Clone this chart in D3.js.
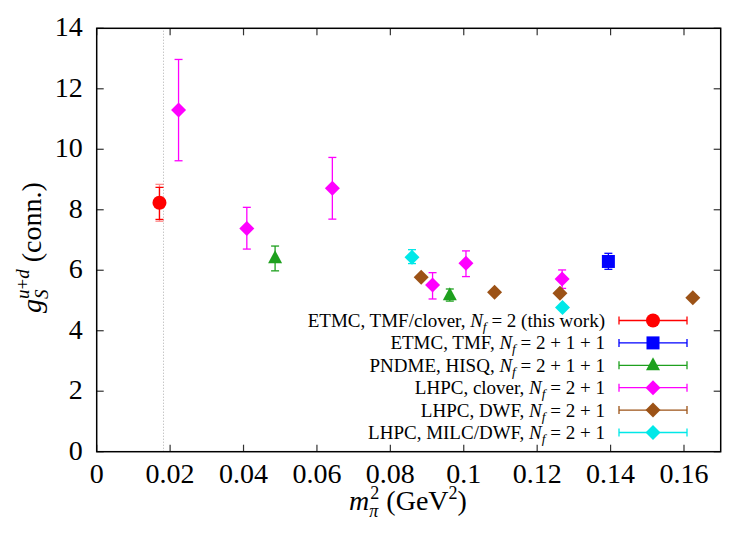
<!DOCTYPE html>
<html lang="en">
<head>
<meta charset="UTF-8">
<title>g_S u+d vs m_pi^2</title>
<script src="https://d3js.org/d3.v7.min.js"></script>
<style>
  body { margin: 0; background: #fff; overflow: hidden; }
  svg text { font-family: "Liberation Serif", "Times New Roman", Times, "DejaVu Serif", serif; fill: #000; }
  .tick-label { font-size: 28px; }
  .legend-text { font-size: 19px; }
</style>
</head>
<body>
<svg id="chart" width="742" height="539"></svg>
<script>
// x = m_pi^2 (GeV^2), y = g_S^{u+d}, lo/hi = error bar ends
const etmcX = [0.0171];
const etmcY = [8.23];
const etmcLo = [7.68];
const etmcHi = [8.74];
const etmcLoTot = [7.62];
const etmcHiTot = [8.84];

const tmfX = [0.1394];
const tmfY = [6.29];
const tmfLo = [6.03];
const tmfHi = [6.56];

const pndmeX = [0.0486, 0.0962];
const pndmeY = [6.40, 5.17];
const pndmeLo = [5.98, 4.98];
const pndmeHi = [6.80, 5.38];

const cloverX = [0.0223, 0.0409, 0.0642, 0.0915, 0.1006, 0.1268];
const cloverY = [11.30, 7.38, 8.71, 5.51, 6.23, 5.71];
const cloverLo = [9.62, 6.70, 7.69, 5.05, 5.79, 5.40];
const cloverHi = [12.97, 8.08, 9.73, 5.92, 6.64, 6.01];

const dwfX = [0.0884, 0.1084, 0.1262, 0.1624];
const dwfY = [5.77, 5.27, 5.24, 5.09];

const milcX = [0.0859, 0.1269];
const milcY = [6.43, 4.77];
const milcLo = [6.22, 4.70];
const milcHi = [6.68, 4.84];

const xTicks = [0, 0.02, 0.04, 0.06, 0.08, 0.1, 0.12, 0.14, 0.16];
const xTickLabels = ["0", "0.02", "0.04", "0.06", "0.08", "0.1", "0.12", "0.14", "0.16"];
const yTicks = [0, 2, 4, 6, 8, 10, 12, 14];
const physMpi2 = 0.0182;

const legendPre = ["ETMC, TMF/clover, ", "ETMC, TMF, ", "PNDME, HISQ, ", "LHPC, clover, ", "LHPC, DWF, ", "LHPC, MILC/DWF, "];
const legendPost = [" = 2 (this work)", " = 2 + 1 + 1", " = 2 + 1 + 1", " = 2 + 1", " = 2 + 1", " = 2 + 1"];

const zip = (xs, ys, lo, hi) => xs.map((x, i) => ({x, y: ys[i], lo: lo ? lo[i] : null, hi: hi ? hi[i] : null}));

const series = [
  {color: "#ff0000", shape: "circle",   pts: zip(etmcX, etmcY, etmcLo, etmcHi)},
  {color: "#0000ff", shape: "square",   pts: zip(tmfX, tmfY, tmfLo, tmfHi)},
  {color: "#1ea01e", shape: "triangle", pts: zip(pndmeX, pndmeY, pndmeLo, pndmeHi)},
  {color: "#ff00ff", shape: "diamond",  pts: zip(cloverX, cloverY, cloverLo, cloverHi)},
  {color: "#9c5216", shape: "diamond",  pts: zip(dwfX, dwfY)},
  {color: "#00e8e8", shape: "diamond",  pts: zip(milcX, milcY, milcLo, milcHi)}
];

const pL = 96.7, pR = 720.7, pT = 28.3, pB = 451.7;
const x = d3.scaleLinear().domain([0, 0.17]).range([pL, pR]);
const y = d3.scaleLinear().domain([0, 14]).range([pB, pT]);

const svg = d3.select("#chart");

function marker(g, shape, color, cx, cy) {
  if (shape === "circle") {
    g.append("circle").attr("cx", cx).attr("cy", cy).attr("r", 7).attr("fill", color);
  } else if (shape === "square") {
    g.append("rect").attr("x", cx - 6.5).attr("y", cy - 6.5).attr("width", 13).attr("height", 13).attr("fill", color);
  } else if (shape === "triangle") {
    g.append("path").attr("d", `M${cx},${cy - 8}L${cx + 7},${cy + 5}L${cx - 7},${cy + 5}Z`).attr("fill", color);
  } else {
    g.append("path").attr("d", `M${cx},${cy - 7.5}L${cx + 7.5},${cy}L${cx},${cy + 7.5}L${cx - 7.5},${cy}Z`).attr("fill", color);
  }
}

function errBar(g, color, cx, y1, y2, opacity) {
  const e = g.append("g").attr("stroke", color).attr("stroke-width", 1.3).attr("opacity", opacity || 1);
  e.append("line").attr("x1", cx).attr("x2", cx).attr("y1", y1).attr("y2", y2);
  e.append("line").attr("x1", cx - 4).attr("x2", cx + 4).attr("y1", y1).attr("y2", y1);
  e.append("line").attr("x1", cx - 4).attr("x2", cx + 4).attr("y1", y2).attr("y2", y2);
}

// physical pion mass line
svg.append("line")
  .attr("x1", x(physMpi2)).attr("x2", x(physMpi2))
  .attr("y1", y(0)).attr("y2", y(14))
  .attr("stroke", "#999").attr("stroke-width", 0.8).attr("stroke-dasharray", "1,2");

// ticks (inside, all four sides)
const tickG = svg.append("g").attr("stroke", "#333").attr("stroke-width", 1.2);
xTicks.forEach(t => {
  tickG.append("line").attr("x1", x(t)).attr("x2", x(t)).attr("y1", pB).attr("y2", pB - 7);
  tickG.append("line").attr("x1", x(t)).attr("x2", x(t)).attr("y1", pT).attr("y2", pT + 7);
});
yTicks.forEach(t => {
  tickG.append("line").attr("x1", pL).attr("x2", pL + 7).attr("y1", y(t)).attr("y2", y(t));
  tickG.append("line").attr("x1", pR).attr("x2", pR - 7).attr("y1", y(t)).attr("y2", y(t));
});

svg.selectAll(".xl").data(xTicks).join("text")
  .attr("class", "tick-label").attr("text-anchor", "middle")
  .attr("x", d => x(d)).attr("y", pB + 31)
  .text((d, i) => xTickLabels[i]);
svg.selectAll(".yl").data(yTicks).join("text")
  .attr("class", "tick-label").attr("text-anchor", "end")
  .attr("x", pL - 14).attr("y", d => y(d) + 8)
  .text(d => d);

// frame
svg.append("rect").attr("x", pL).attr("y", pT).attr("width", pR - pL).attr("height", pB - pT)
  .attr("fill", "none").attr("stroke", "#000").attr("stroke-width", 1.5);

// data
series.forEach(s => {
  const g = svg.append("g");
  s.pts.forEach(p => {
    if (p.lo !== null) errBar(g, s.color, x(p.x), y(p.hi), y(p.lo));
    marker(g, s.shape, s.color, x(p.x), y(p.y));
  });
});
// total error on this work
errBar(svg.append("g"), "#ff0000", x(etmcX[0]), y(etmcHiTot[0]), y(etmcLoTot[0]), 0.45);

// legend
const legTop = 320.5, legStep = 22.4, legTextX = 605, legL = 619, legR = 687, legM = 653;
series.forEach((s, i) => {
  const cy = legTop + i * legStep;
  const t = svg.append("text").attr("class", "legend-text").attr("text-anchor", "end")
    .attr("x", legTextX).attr("y", cy + 6.5);
  t.append("tspan").text(legendPre[i]);
  t.append("tspan").attr("font-style", "italic").text("N");
  t.append("tspan").attr("font-style", "italic").attr("font-size", "13.5px").attr("dy", 4).text("f");
  t.append("tspan").attr("dy", -4).text(legendPost[i]);
  const g = svg.append("g");
  g.append("line").attr("x1", legL).attr("x2", legR).attr("y1", cy).attr("y2", cy)
    .attr("stroke", s.color).attr("stroke-width", 1.3);
  [legL, legR].forEach(cx => g.append("line").attr("x1", cx).attr("x2", cx).attr("y1", cy - 4).attr("y2", cy + 4)
    .attr("stroke", s.color).attr("stroke-width", 1.3));
  marker(g, s.shape, s.color, legM, cy);
});

// helper: put a text piece at (px, py) and return its width
function piece(g, str, px, py, size, italic) {
  const t = g.append("text").attr("x", px).attr("y", py)
    .attr("font-size", size + "px").attr("font-style", italic ? "italic" : "normal").text(str);
  return t.node().getComputedTextLength();
}

// x axis title: m_pi^2 (GeV^2)
const xt = svg.append("g");
let cx = 0;
cx += piece(xt, "m", cx, 0, 28, true);
const w2 = piece(xt, "2", cx + 1, -11, 18, false);
const wpi = piece(xt, "π", cx, 7, 18, true);
cx += Math.max(w2, wpi) + 8;
cx += piece(xt, "(GeV", cx, 0, 28, false);
cx += piece(xt, "2", cx, -11, 18, false);
cx += piece(xt, ")", cx, 0, 28, false);
xt.attr("transform", `translate(${408 - cx / 2},510)`);

// y axis title: g_S^{u+d} (conn.)
const yt = svg.append("g").attr("transform", "translate(41,313) rotate(-90)");
let cy = 0;
cy += piece(yt, "g", cy, 0, 28, true);
const wu = piece(yt, "u", cy, -12, 19, true);
const wp = piece(yt, "+", cy + wu, -12, 19, false);
const wd = piece(yt, "d", cy + wu + wp, -12, 19, true);
const wS = piece(yt, "S", cy, 7, 19, true);
cy += Math.max(wu + wp + wd, wS) + 7;
piece(yt, "(conn.)", cy, 0, 28, false);
</script>
</body>
</html>
